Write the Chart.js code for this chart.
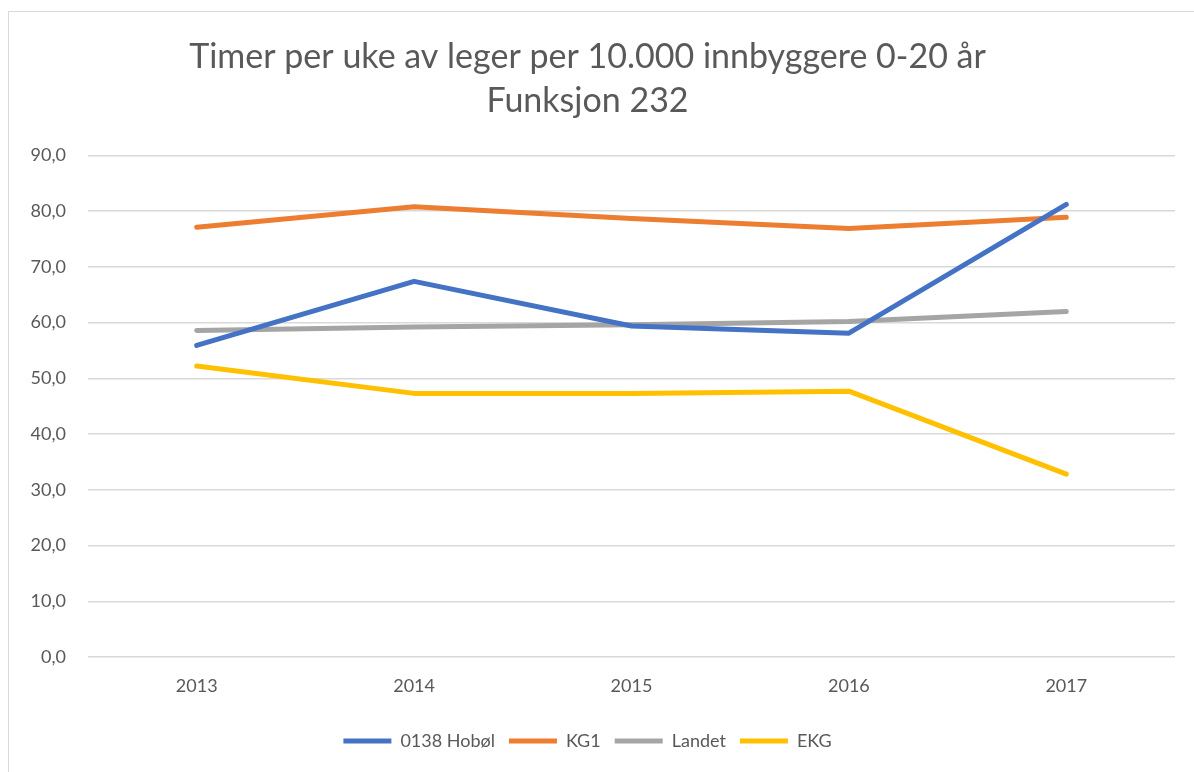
<!DOCTYPE html>
<html>
<head>
<meta charset="utf-8">
<script src="https://cdn.jsdelivr.net/npm/chart.js@4"></script>
<style>
  html, body { margin: 0; padding: 0; background: #fff; }
  #wrap { position: relative; width: 1194px; height: 772px; }
  #frame { position: absolute; left: 8px; top: 11px; right: -2px; bottom: -2px;
           border-left: 1px solid #d9d9d9; border-top: 1px solid #d9d9d9; }
  canvas { position: absolute; left: 0; top: 0; }
</style>
</head>
<body>
<div id="wrap">
  <div id="frame"></div>
  <canvas id="chart" width="1194" height="772"></canvas>
</div>
<script>
const years = ['2013', '2014', '2015', '2016', '2017'];
const hobol = [55.9, 67.4, 59.4, 58.1, 81.2];
const kg1 = [77.1, 80.8, 78.7, 76.9, 78.9];
const landet = [58.6, 59.2, 59.6, 60.2, 62.0];
const ekg = [52.2, 47.3, 47.3, 47.7, 32.8];

const textColor = '#595959';
const fontFamily = 'Lato, "Liberation Sans", sans-serif';

function series(label, data, color) {
  return {
    label: label,
    data: data,
    borderColor: color,
    backgroundColor: color,
    borderWidth: 5,
    borderCapStyle: 'round',
    borderJoinStyle: 'round',
    pointRadius: 0,
    pointHoverRadius: 0,
    tension: 0
  };
}

const ctx = document.getElementById('chart').getContext('2d');
new Chart(ctx, {
  type: 'line',
  data: {
    labels: years,
    datasets: [
      series('0138 Hobøl', hobol, '#4472C4'),
      series('KG1', kg1, '#ED7D31'),
      series('Landet', landet, '#A5A5A5'),
      series('EKG', ekg, '#FFC000')
    ]
  },
  options: {
    responsive: false,
    animation: false,
    layout: { padding: { left: 0, right: 19, top: 0, bottom: 12 } },
    plugins: {
      title: {
        display: true,
        text: ['Timer per uke av leger per 10.000 innbyggere 0-20 år', 'Funksjon 232'],
        color: textColor,
        font: { family: fontFamily, size: 34, weight: 'normal', lineHeight: 1.3 },
        padding: { top: 35, bottom: 32 }
      },
      legend: {
        position: 'bottom',
        labels: {
          color: textColor,
          font: { family: fontFamily, size: 18 },
          usePointStyle: true,
          pointStyle: 'line',
          pointStyleWidth: 48,
          padding: 14
        }
      },
      tooltip: { enabled: false }
    },
    scales: {
      x: {
        offset: true,
        grid: { display: false, drawTicks: false },
        border: { display: false },
        ticks: { color: textColor, font: { family: fontFamily, size: 18 }, padding: 18 },
        afterFit: function (axis) { axis.height = 61; }
      },
      y: {
        min: 0,
        max: 90,
        grid: { color: '#d9d9d9', lineWidth: 1.5, drawTicks: false },
        border: { display: false },
        ticks: {
          stepSize: 10,
          color: textColor,
          font: { family: fontFamily, size: 18 },
          padding: 22,
          callback: function (v) { return v.toFixed(1).replace('.', ','); }
        },
        afterFit: function (axis) { axis.width = 88; }
      }
    }
  }
});
</script>
</body>
</html>
